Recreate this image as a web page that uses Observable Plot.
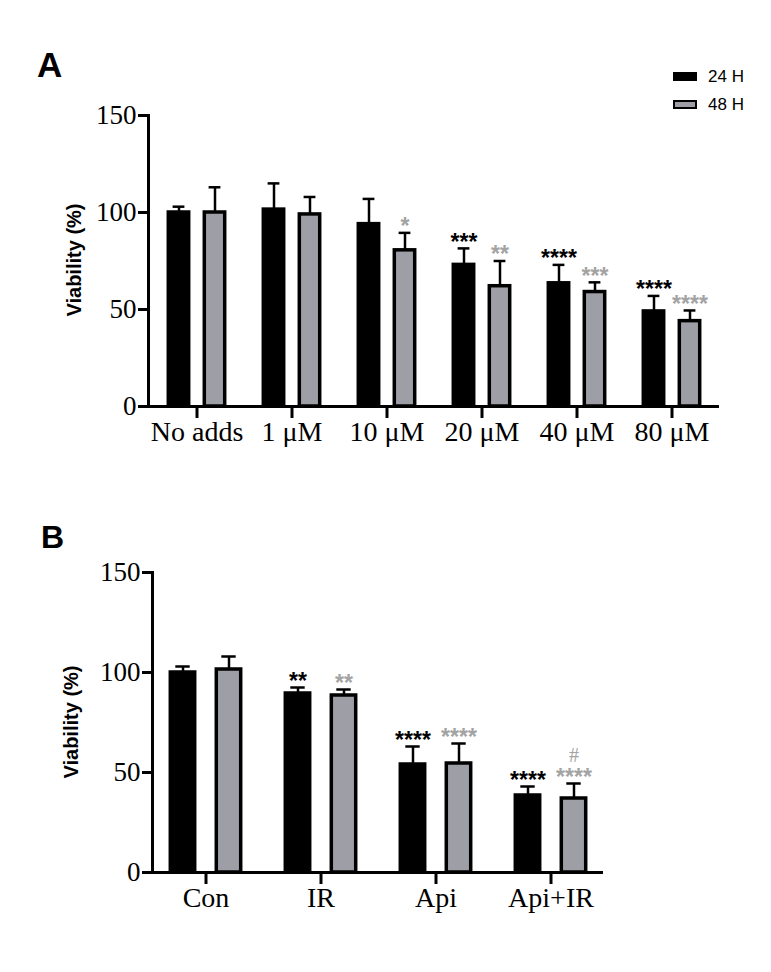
<!DOCTYPE html>
<html><head><meta charset="utf-8">
<script src="https://cdn.jsdelivr.net/npm/d3@7"></script>
<script src="https://cdn.jsdelivr.net/npm/@observablehq/plot@0.6"></script>
<style>
body{margin:0;background:#fff;}
#page{position:relative;width:771px;height:972px;background:#fff;overflow:hidden;font-family:"Liberation Sans",Arial,sans-serif;color:#000;}
.plabel{position:absolute;font-weight:bold;line-height:1;}
.ylab{position:absolute;font-weight:bold;font-size:20px;white-space:nowrap;transform:translate(-50%,-50%) rotate(-90deg);line-height:1;}
.leg{position:absolute;font-size:17px;line-height:1;}
.sw{position:absolute;box-sizing:border-box;}
#page svg{position:absolute;left:0;overflow:visible;}
</style></head><body><div id="page"></div>
<script>
// ---- Data: panel A ----
const catsA = ["No adds", "1 μM", "10 μM", "20 μM", "40 μM", "80 μM"];
const meanA24 = [100, 101.5, 94, 73, 63.5, 49];
const errA24  = [3, 13.5, 13, 8.5, 9.5, 8];
const meanA48 = [100, 99, 80.5, 62, 59, 44];
const errA48  = [13, 9, 9, 13, 5, 5.5];
const sigA24  = ["", "", "", "***", "****", "****"];
const sigA48  = ["", "", "*", "**", "***", "****"];
// ---- Data: panel B ----
const catsB = ["Con", "IR", "Api", "Api+IR"];
const meanB24 = [100, 89.5, 54, 38.5];
const errB24  = [3, 3, 9, 4.5];
const meanB48 = [101.5, 88.5, 54.5, 37];
const errB48  = [6.5, 3, 10, 7.5];
const sigB24  = ["", "**", "****", "****"];
const sigB48  = ["", "**", "****", "****"];
const hashB48 = ["", "", "", "#"];
const yTicks = [0, 50, 100, 150];
const seriesNames = ["24 H", "48 H"];

const GRAY = "#9e9ea6";
const STARGRAY = "#a3a3a3";

function rows(cats, mean, err, sig, extra) {
  return cats.map((c, i) => ({cat: c, v: mean[i], top: mean[i] + err[i], sig: sig[i], extra: extra ? extra[i] : ""}));
}

function makePanel(o) {
  const d24 = rows(o.cats, o.m24, o.e24, o.s24);
  const d48 = rows(o.cats, o.m48, o.e48, o.s48, o.h48);
  const starStyle = {fontSize: 23, fontWeight: "bold", fontFamily: "Liberation Sans, Arial, sans-serif"};
  return Plot.plot({
    width: 771, height: o.height,
    marginTop: 25, marginBottom: 50, marginLeft: o.ml, marginRight: o.mr,
    style: {fontFamily: "Liberation Serif, Times New Roman, serif", color: "black", background: "transparent"},
    x: {type: "band", domain: o.cats, paddingInner: 0, paddingOuter: o.po},
    y: {domain: [0, 150]},
    marks: [
      Plot.ruleX(d24, {x: "cat", y1: "v", y2: "top", dx: -o.off, stroke: "black", strokeWidth: 2.5}),
      Plot.tickY(d24, {x: "cat", y: "top", dx: -o.off, insetLeft: o.capIn, insetRight: o.capIn, stroke: "black", strokeWidth: 2.5}),
      Plot.ruleX(d48, {x: "cat", y1: "v", y2: "top", dx: o.off, stroke: "black", strokeWidth: 2.5}),
      Plot.tickY(d48, {x: "cat", y: "top", dx: o.off, insetLeft: o.capIn, insetRight: o.capIn, stroke: "black", strokeWidth: 2.5}),
      Plot.barY(d24, {x: "cat", y: "v", dx: -o.off, insetLeft: o.barIn, insetRight: o.barIn, fill: "black", stroke: "black", strokeWidth: 3.5}),
      Plot.barY(d48, {x: "cat", y: "v", dx: o.off, insetLeft: o.barIn, insetRight: o.barIn, fill: GRAY, stroke: "black", strokeWidth: 3.5}),
      Plot.text(d24, {x: "cat", y: "top", text: "sig", dx: -o.off, dy: -6, fill: "black", ...starStyle}),
      Plot.text(d48, {x: "cat", y: "top", text: "sig", dx: o.off, dy: -6, fill: STARGRAY, ...starStyle}),
      Plot.text(d48, {x: "cat", y: "top", text: "extra", dx: o.off, dy: -28, fill: STARGRAY, fontSize: 20, fontFamily: "Liberation Serif, serif"}),
      Plot.ruleY([0], {stroke: "black", strokeWidth: 3}),
      Plot.frame({anchor: "left", stroke: "black", strokeWidth: 3}),
      Plot.axisY({ticks: yTicks, tickSize: 10, tickPadding: 2, strokeWidth: 3, fontSize: 27, label: null, tickFormat: d => String(d)}),
      Plot.axisX({tickSize: 12, tickPadding: 3, strokeWidth: 3, fontSize: 28, label: null})
    ]
  });
}

const page = document.getElementById("page");

const svgA = makePanel({cats: catsA, m24: meanA24, e24: errA24, m48: meanA48, e48: errA48, s24: sigA24, s48: sigA48,
  height: 366, ml: 148, mr: 52, po: 0, off: 18, barIn: 37.3, capIn: 41.6});
svgA.style.top = "90px";
page.appendChild(svgA);

const svgB = makePanel({cats: catsB, m24: meanB24, e24: errB24, m48: meanB48, e48: errB48, s24: sigB24, s48: sigB48, h48: hashB48,
  height: 375, ml: 152, mr: 168, po: -0.05, off: 23, barIn: 45.3, capIn: 50.3});
svgB.style.top = "547px";
page.appendChild(svgB);

function addDiv(cls, text, css) {
  const d = document.createElement("div");
  d.className = cls;
  if (text != null) d.textContent = text;
  Object.assign(d.style, css);
  page.appendChild(d);
  return d;
}
// Panel letters
addDiv("plabel", "A", {left: "37px", top: "47px", fontSize: "35px"});
addDiv("plabel", "B", {left: "41px", top: "521px", fontSize: "32px"});
// Y-axis titles
addDiv("ylab", "Viability (%)", {left: "74px", top: "260px"});
addDiv("ylab", "Viability (%)", {left: "71px", top: "722px"});
// Legend
addDiv("sw", null, {left: "673px", top: "72px", width: "24px", height: "9px", background: "#000"});
addDiv("sw", null, {left: "673px", top: "100px", width: "24px", height: "9px", background: GRAY, border: "2.5px solid #000"});
addDiv("leg", seriesNames[0], {left: "708px", top: "68px"});
addDiv("leg", seriesNames[1], {left: "708px", top: "96px"});
</script>
</body></html>
